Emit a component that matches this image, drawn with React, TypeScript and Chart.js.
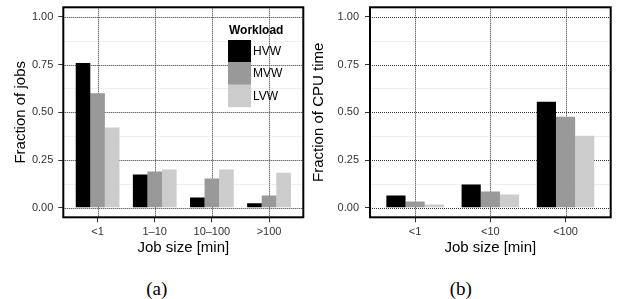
import React, { useEffect, useRef } from 'react';
import { Chart, registerables } from 'chart.js';

Chart.register(...registerables);

// ---- data ----
const jobCategories = ['<1', '1\u201310', '10\u2013100', '>100'];
const cpuCategories = ['<1', '<10', '<100'];
const seriesNames = ['HVW', 'MVW', 'LVW'];
const seriesColors = ['#000000', '#999999', '#cccccc'];

const jobsHVW = [0.758, 0.174, 0.054, 0.023];
const jobsMVW = [0.6, 0.19, 0.153, 0.064];
const jobsLVW = [0.421, 0.2, 0.2, 0.184];

const cpuHVW = [0.064, 0.122, 0.555];
const cpuMVW = [0.033, 0.085, 0.477];
const cpuLVW = [0.017, 0.07, 0.377];

const yMajorTicks = [0, 0.25, 0.5, 0.75, 1.0];
const yMinorTicks = [0.125, 0.375, 0.625, 0.875];

const legendTitle = 'Workload';
const xAxisTitle = 'Job size [min]';
const jobsYTitle = 'Fraction of jobs';
const cpuYTitle = 'Fraction of CPU time';

const SANS = '"Liberation Sans", Arial, Helvetica, sans-serif';
Chart.defaults.font.family = SANS;

// ---- plugins ----
const ggGrid = {
  id: 'ggGrid',
  beforeDatasetsDraw(chart: any) {
    const { ctx, chartArea: a, scales } = chart;
    const x = scales.x;
    const y = scales.y;
    ctx.save();
    ctx.lineWidth = 1;
    ctx.strokeStyle = '#efefef';
    ctx.setLineDash([]);
    yMinorTicks.forEach((v) => {
      const py = Math.round(y.getPixelForValue(v)) + 0.5;
      ctx.beginPath();
      ctx.moveTo(a.left, py);
      ctx.lineTo(a.right, py);
      ctx.stroke();
    });
    ctx.strokeStyle = '#333333';
    ctx.setLineDash([1, 1]);
    yMajorTicks.forEach((v) => {
      const py = Math.round(y.getPixelForValue(v)) + 0.5;
      ctx.beginPath();
      ctx.moveTo(a.left, py);
      ctx.lineTo(a.right, py);
      ctx.stroke();
    });
    x.ticks.forEach((t: any) => {
      const px = Math.round(x.getPixelForValue(t.value)) + 0.5;
      ctx.beginPath();
      ctx.moveTo(px, a.top);
      ctx.lineTo(px, a.bottom);
      ctx.stroke();
    });
    ctx.restore();
  },
  afterDatasetsDraw(chart: any) {
    const { ctx, chartArea: a } = chart;
    ctx.save();
    ctx.lineWidth = 2;
    ctx.strokeStyle = '#000000';
    ctx.setLineDash([]);
    ctx.strokeRect(a.left, a.top, a.right - a.left, a.bottom - a.top);
    ctx.restore();
  },
};

const ggLegend = {
  id: 'ggLegend',
  afterDraw(chart: any) {
    const { ctx } = chart;
    const ds = chart.data.datasets;
    ctx.save();
    ctx.fillStyle = '#000000';
    ctx.font = `bold 12px ${SANS}`;
    ctx.textAlign = 'left';
    ctx.textBaseline = 'middle';
    ctx.fillText(legendTitle, 229, 31);
    const keyX = 228;
    const keyW = 23;
    const keyH = 22.4;
    const keyTop = 40;
    ds.forEach((d: any, i: number) => {
      ctx.fillStyle = d.backgroundColor;
      ctx.fillRect(keyX, keyTop + i * keyH, keyW, keyH);
      ctx.fillStyle = '#000000';
      ctx.font = `12px ${SANS}`;
      ctx.fillText(d.label, keyX + keyW + 2, keyTop + i * keyH + keyH / 2 + 0.5);
    });
    ctx.restore();
  },
};

function makeConfig(
  categories: string[],
  series: number[][],
  yTitle: string,
  yAxisWidth: number,
  padRight: number,
  yTitlePad: number,
  yTickPad: number,
  withLegend: boolean
) {
  return {
    type: 'bar',
    data: {
      datasets: series.map((vals, si) => ({
        label: seriesNames[si],
        data: vals.map((v, i) => ({ x: i + 1, y: v })),
        backgroundColor: seriesColors[si],
        borderWidth: 0,
        categoryPercentage: 0.765,
        barPercentage: 1.0,
      })),
    },
    options: {
      animation: false,
      responsive: false,
      maintainAspectRatio: false,
      layout: { padding: { left: 0, top: 7.3, right: padRight, bottom: 0 } },
      plugins: {
        legend: { display: false },
        tooltip: { enabled: false },
        title: { display: false },
      },
      scales: {
        x: {
          type: 'linear',
          offset: false,
          min: 0.4,
          max: categories.length + 0.6,
          afterBuildTicks: (s: any) => {
            s.ticks = categories.map((_, i) => ({ value: i + 1 }));
          },
          afterFit: (s: any) => {
            s.height = 42.7;
            s.paddingLeft = 0;
            s.paddingRight = 0;
          },
          ticks: {
            autoSkip: false,
            maxRotation: 0,
            minRotation: 0,
            padding: 2.8,
            color: '#333333',
            font: { size: 11 },
            callback: (v: any) => categories[Math.round(Number(v)) - 1] ?? '',
          },
          grid: {
            display: true,
            offset: false,
            drawOnChartArea: false,
            drawTicks: true,
            tickLength: 5,
            tickWidth: 1,
            tickColor: '#333333',
            color: 'rgba(0,0,0,0)',
          },
          border: { display: false },
          title: {
            display: true,
            text: xAxisTitle,
            color: '#000000',
            font: { size: 15 },
            padding: { top: 0, bottom: 2.8 },
          },
        },
        y: {
          type: 'linear',
          min: -0.05,
          max: 1.05,
          afterBuildTicks: (s: any) => {
            s.ticks = yMajorTicks.map((v) => ({ value: v }));
          },
          afterFit: (s: any) => {
            s.width = yAxisWidth;
            s.paddingTop = 0;
            s.paddingBottom = 0;
          },
          ticks: {
            padding: yTickPad,
            color: '#333333',
            font: { size: 11 },
            callback: (v: any) => Number(v).toFixed(2),
          },
          grid: {
            display: true,
            drawOnChartArea: false,
            drawTicks: true,
            tickLength: 5,
            tickWidth: 1,
            tickColor: '#333333',
            color: 'rgba(0,0,0,0)',
          },
          border: { display: false },
          title: {
            display: true,
            text: yTitle,
            color: '#000000',
            font: { size: 15 },
            padding: { top: yTitlePad, bottom: 0 },
          },
        },
      },
    },
    plugins: withLegend ? [ggGrid, ggLegend] : [ggGrid],
  };
}

function Panel(props: { left: number; width: number; height: number; config: any }) {
  const ref = useRef<HTMLCanvasElement | null>(null);
  useEffect(() => {
    if (!ref.current) return;
    const chart = new Chart(ref.current, props.config);
    return () => chart.destroy();
  }, []);
  return (
    <canvas
      ref={ref}
      width={props.width}
      height={props.height}
      style={{ position: 'absolute', left: props.left, top: 0, width: props.width, height: props.height }}
    />
  );
}

function Caption(props: { cx: number; cy: number; text: string }) {
  return (
    <div
      style={{
        position: 'absolute',
        left: props.cx - 40,
        top: props.cy - 11,
        width: 80,
        height: 22,
        lineHeight: '22px',
        textAlign: 'center',
        fontFamily: '"Liberation Serif", "Times New Roman", serif',
        fontSize: 19,
        color: '#000',
      }}
    >
      {props.text}
    </div>
  );
}

export default function App() {
  const configA = makeConfig(jobCategories, [jobsHVW, jobsMVW, jobsLVW], jobsYTitle, 63.3, 6.7, 12, 5, true);
  const configB = makeConfig(cpuCategories, [cpuHVW, cpuMVW, cpuLVW], cpuYTitle, 70, 6.3, 10, 6, false);
  return (
    <div style={{ position: 'absolute', left: 0, top: 0, width: 617, height: 299, background: '#fff', overflow: 'hidden' }}>
      <Panel left={0} width={310} height={260} config={configA} />
      <Panel left={300} width={317} height={260} config={configB} />
      <Caption cx={156.7} cy={289} text="(a)" />
      <Caption cx={460.8} cy={289} text="(b)" />
    </div>
  );
}
